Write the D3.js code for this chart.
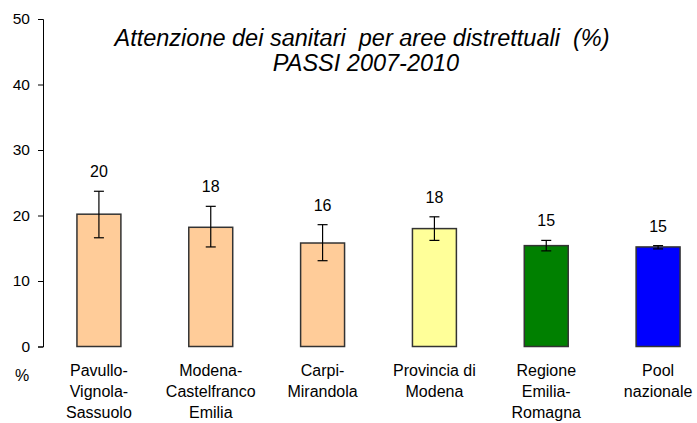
<!DOCTYPE html>
<html>
<head>
<meta charset="utf-8">
<script src="https://cdn.jsdelivr.net/npm/d3@7"></script>
<style>
  body { margin: 0; background: #fff; }
  text { font-family: "Liberation Sans", Arial, sans-serif; fill: #000; }
</style>
</head>
<body>
<div id="chart"></div>
<script>
var categories = [
  ["Pavullo-", "Vignola-", "Sassuolo"],
  ["Modena-", "Castelfranco", "Emilia"],
  ["Carpi-", "Mirandola"],
  ["Provincia di", "Modena"],
  ["Regione", "Emilia-", "Romagna"],
  ["Pool", "nazionale"]
];
var values = [20.2, 18.2, 15.8, 18.0, 15.4, 15.2];
var labels = ["20", "18", "16", "18", "15", "15"];
var errLow = [16.6, 15.2, 13.1, 16.2, 14.6, 14.9];
var errHigh = [23.7, 21.4, 18.6, 19.8, 16.2, 15.4];
var colors = ["#FFCC99", "#FFCC99", "#FFCC99", "#FFFF99", "#008000", "#0000FF"];
var yTicks = [0, 10, 20, 30, 40, 50];

var W = 697, H = 423;
var svg = d3.select("#chart").append("svg")
    .attr("width", W)
    .attr("height", H);

var x = d3.scaleBand()
    .domain(d3.range(values.length))
    .range([43, 714])
    .paddingInner(0.607)
    .paddingOuter(0.3035);

var y = d3.scaleLinear()
    .domain([0, 50])
    .range([346.5, 19]);

// y axis
var yAxis = svg.append("g")
    .attr("transform", "translate(43,0)")
    .call(d3.axisLeft(y).tickValues(yTicks).tickSize(5).tickPadding(8));
yAxis.select(".domain").attr("stroke", "#000").attr("stroke-width", 1);
yAxis.selectAll(".tick line").attr("stroke", "#000");
yAxis.selectAll(".tick text")
    .attr("font-size", "15.5px")
    .attr("font-family", "Liberation Sans, Arial, sans-serif")
    .attr("fill", "#000");

// bars
svg.selectAll("rect.bar")
    .data(values)
    .enter()
    .append("rect")
    .attr("class", "bar")
    .attr("x", function(d, i) { return x(i); })
    .attr("y", function(d) { return y(d); })
    .attr("width", x.bandwidth())
    .attr("height", function(d) { return y(0) - y(d); })
    .attr("fill", function(d, i) { return colors[i]; })
    .attr("stroke", "#333")
    .attr("stroke-width", 1.5);

// error bars
var eb = svg.selectAll("g.err")
    .data(values)
    .enter()
    .append("g")
    .attr("class", "err")
    .attr("stroke", "#000")
    .attr("stroke-width", 1.2);
eb.append("line")
    .attr("x1", function(d, i) { return x(i) + x.bandwidth() / 2; })
    .attr("x2", function(d, i) { return x(i) + x.bandwidth() / 2; })
    .attr("y1", function(d, i) { return y(errLow[i]); })
    .attr("y2", function(d, i) { return y(errHigh[i]); });
eb.append("line")
    .attr("x1", function(d, i) { return x(i) + x.bandwidth() / 2 - 5; })
    .attr("x2", function(d, i) { return x(i) + x.bandwidth() / 2 + 5; })
    .attr("y1", function(d, i) { return y(errHigh[i]); })
    .attr("y2", function(d, i) { return y(errHigh[i]); });
eb.append("line")
    .attr("x1", function(d, i) { return x(i) + x.bandwidth() / 2 - 5; })
    .attr("x2", function(d, i) { return x(i) + x.bandwidth() / 2 + 5; })
    .attr("y1", function(d, i) { return y(errLow[i]); })
    .attr("y2", function(d, i) { return y(errLow[i]); });

// value labels
svg.selectAll("text.val")
    .data(labels)
    .enter()
    .append("text")
    .attr("class", "val")
    .attr("x", function(d, i) { return x(i) + x.bandwidth() / 2; })
    .attr("y", function(d, i) { return y(errHigh[i]) - 14; })
    .attr("text-anchor", "middle")
    .attr("font-size", "16px")
    .text(function(d) { return d; });

// category labels
var cat = svg.selectAll("text.cat")
    .data(categories)
    .enter()
    .append("text")
    .attr("class", "cat")
    .attr("text-anchor", "middle")
    .attr("font-size", "16px");
cat.selectAll("tspan")
    .data(function(d, i) { return d.map(function(s) { return { s: s, i: i }; }); })
    .enter()
    .append("tspan")
    .attr("x", function(d) { return x(d.i) + x.bandwidth() / 2; })
    .attr("y", function(d, j) { return 376 + j * 21; })
    .text(function(d) { return d.s; });

svg.append("text")
    .attr("x", 22)
    .attr("y", 381)
    .attr("text-anchor", "middle")
    .attr("font-size", "16px")
    .text("%");

// title
var title = svg.append("g")
    .attr("font-size", "23.5px")
    .attr("font-style", "italic");
title.append("text").attr("x", 362).attr("y", 46)
    .attr("text-anchor", "middle")
    .style("white-space", "pre")
    .text("Attenzione dei sanitari  per aree distrettuali  (%)");
title.append("text").attr("x", 366).attr("y", 71)
    .attr("text-anchor", "middle")
    .text("PASSI 2007-2010");
</script>
</body>
</html>
